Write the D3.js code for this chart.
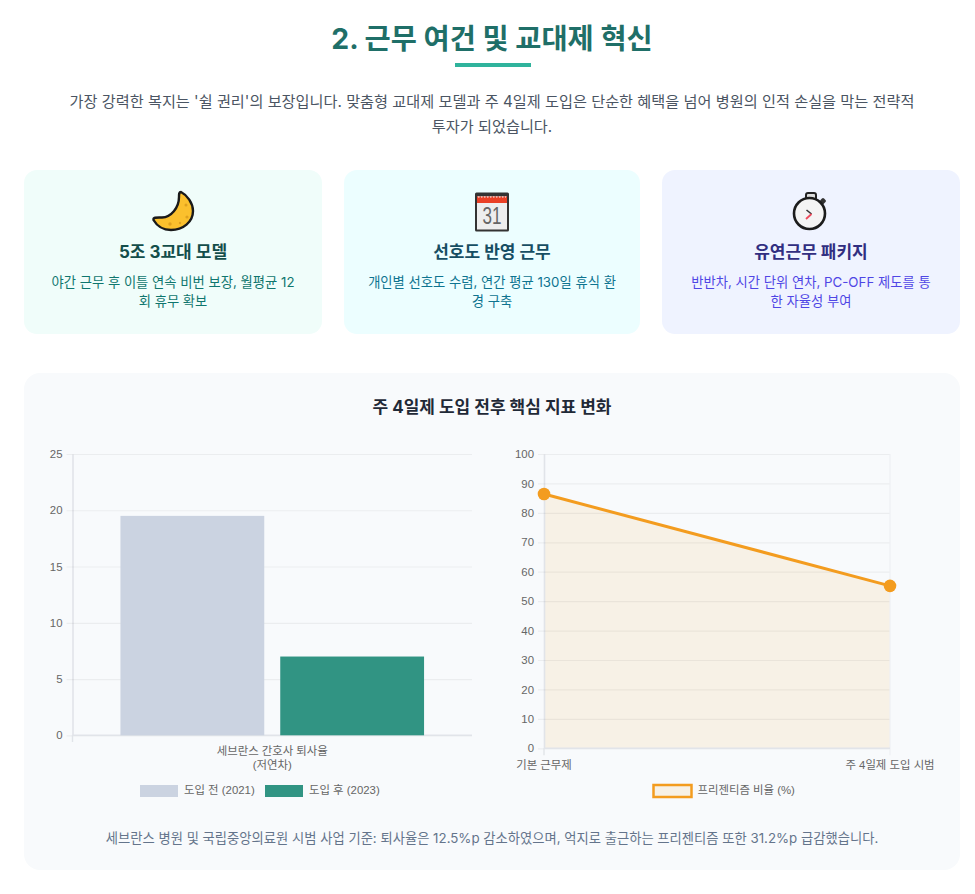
<!DOCTYPE html>
<html lang="ko">
<head>
<meta charset="utf-8">
<script src="https://cdn.jsdelivr.net/npm/d3@7"></script>
<style>
  html, body { margin: 0; background: #fff; }
  svg { display: block; }
  text { font-family: Inter, "Noto Sans CJK KR", sans-serif; }
  .tick text, .chart-label { font-family: "Liberation Sans", "Noto Sans CJK KR", sans-serif; font-size: 11.4px; fill: #666; }
</style>
</head>
<body>
<div id="page"></div>
<script>
const introLines = [
  "가장 강력한 복지는 '쉴 권리'의 보장입니다. 맞춤형 교대제 모델과 주 4일제 도입은 단순한 혜택을 넘어 병원의 인적 손실을 막는 전략적",
  "투자가 되었습니다."
];
const cardTitles = ["5조 3교대 모델", "선호도 반영 근무", "유연근무 패키지"];
const cardBodies = [
  ["야간 근무 후 이틀 연속 비번 보장, 월평균 12", "회 휴무 확보"],
  ["개인별 선호도 수렴, 연간 평균 130일 휴식 환", "경 구축"],
  ["반반차, 시간 단위 연차, PC-OFF 제도를 통", "한 자율성 부여"]
];
const turnoverCategory = ["세브란스 간호사 퇴사율", "(저연차)"];
const turnoverSeries = ["도입 전 (2021)", "도입 후 (2023)"];
const turnoverValues = [19.5, 7.0];
const presenteeismLabels = ["기본 근무제", "주 4일제 도입 시범"];
const presenteeismValues = [86.4, 55.2];
const presenteeismSeries = "프리젠티즘 비율 (%)";

const svg = d3.select("#page").append("svg").attr("width", 975).attr("height", 894);

// heading
svg.append("text").attr("x", 492).attr("y", 49).attr("text-anchor", "middle")
  .attr("font-size", 28.4).attr("font-weight", 700).attr("fill", "#1f6f68")
  .text("2. 근무 여건 및 교대제 혁신");
svg.append("rect").attr("x", 455).attr("y", 63).attr("width", 76).attr("height", 4).attr("fill", "#2fb39c");
svg.selectAll(".intro").data(introLines).join("text").attr("class", "intro")
  .attr("x", 492).attr("y", (d, i) => 107 + i * 25).attr("text-anchor", "middle")
  .attr("font-size", 15.2).attr("fill", "#4b5563").text(d => d);

// cards
const cardX = [24, 344, 662];
const cardW = [298, 296, 298];
const cardFill = ["#f0fdfa", "#ecfeff", "#eff3ff"];
const cardHead = ["#134e4a", "#164e63", "#312e81"];
const cardText = ["#0f766e", "#0e7490", "#4f46e5"];
const icons = [drawMoon, drawCalendar, drawStopwatch];
cardTitles.forEach((title, i) => {
  const cx = cardX[i] + cardW[i] / 2;
  svg.append("rect").attr("x", cardX[i]).attr("y", 170).attr("width", cardW[i]).attr("height", 164)
    .attr("rx", 13).attr("fill", cardFill[i]);
  icons[i](svg.append("g").attr("transform", `translate(${cx},211)`));
  svg.append("text").attr("x", cx).attr("y", 258).attr("text-anchor", "middle")
    .attr("font-size", 17).attr("font-weight", 700).attr("fill", cardHead[i]).text(title);
  cardBodies[i].forEach((line, j) => {
    svg.append("text").attr("x", cx).attr("y", 287 + j * 19).attr("text-anchor", "middle")
      .attr("font-size", 13.3).attr("fill", cardText[i]).text(line);
  });
});

function drawMoon(g) {
  g.append("path")
    .attr("d", "M8,-19 C14,-16 20,-8 20,0 C20,11 10,19 -2,19 C-10,19 -16,15 -19.5,9 C-20,6 -16,6.5 -11,6.5 C-2,6 6,-3 6,-14 C6,-17 6,-19 8,-19 Z")
    .attr("fill", "#fbc02d").attr("stroke", "#1a1a1a").attr("stroke-width", 2.4).attr("stroke-linejoin", "round");
  g.selectAll("circle").data([[13, -6, 1.5], [14, 6, 1.6], [-3, 13, 1.7], [7, 12, 1.2]]).join("circle")
    .attr("cx", d => d[0]).attr("cy", d => d[1]).attr("r", d => d[2]).attr("fill", "#e0a11f");
}

function drawCalendar(g) {
  g.append("rect").attr("x", -17).attr("y", -18.5).attr("width", 34).attr("height", 39).attr("rx", 1.5).attr("fill", "#333");
  g.append("rect").attr("x", -15).attr("y", -14.5).attr("width", 30).attr("height", 33).attr("fill", "#eeeeee");
  g.append("rect").attr("x", -15).attr("y", -14.5).attr("width", 30).attr("height", 6.5).attr("fill", "#ea4026");
  g.append("line").attr("x1", -14).attr("x2", 14).attr("y1", -14).attr("y2", -14)
    .attr("stroke", "#fff").attr("stroke-width", 1.2).attr("stroke-dasharray", "1.5 1.5");
  g.append("text").attr("x", 0).attr("y", 12.5).attr("text-anchor", "middle").attr("font-size", 23)
    .attr("fill", "#666").attr("textLength", 19).attr("lengthAdjust", "spacingAndGlyphs")
    .style("font-family", "'Liberation Sans'").text("31");
}

function drawStopwatch(g) {
  g.append("rect").attr("x", -5).attr("y", -18).attr("width", 10).attr("height", 7).attr("rx", 2)
    .attr("fill", "#ddd").attr("stroke", "#222").attr("stroke-width", 2);
  g.append("rect").attr("x", 9.5).attr("y", -12.5).attr("width", 5).attr("height", 5).attr("rx", 1.5)
    .attr("fill", "#333").attr("transform", "rotate(45 12 -10)");
  g.append("circle").attr("cx", -1.5).attr("cy", 2.5).attr("r", 15.5)
    .attr("fill", "#f4f4f4").attr("stroke", "#1c1c1c").attr("stroke-width", 2.6);
  g.append("path").attr("d", "M-4.5,-1 L0.5,3").attr("stroke", "#333").attr("stroke-width", 1.6).attr("fill", "none");
  g.append("path").attr("d", "M0.5,3 L-5,8").attr("stroke", "#ef4b5c").attr("stroke-width", 1.8).attr("fill", "none");
}

// chart panel
svg.append("rect").attr("x", 24).attr("y", 373).attr("width", 936).attr("height", 497).attr("rx", 16).attr("fill", "#f8fafc");
svg.append("text").attr("x", 492).attr("y", 413).attr("text-anchor", "middle")
  .attr("font-size", 17).attr("font-weight", 700).attr("fill", "#1f2937").text("주 4일제 도입 전후 핵심 지표 변화");
svg.append("text").attr("x", 492).attr("y", 843).attr("text-anchor", "middle")
  .attr("font-size", 13.3).attr("fill", "#64748b")
  .text("세브란스 병원 및 국립중앙의료원 시범 사업 기준: 퇴사율은 12.5%p 감소하였으며, 억지로 출근하는 프리젠티즘 또한 31.2%p 급감했습니다.");

const gridColor = "#eef0f4";
const axisColor = "#e1e4e9";

function styleYAxis(g, left, right) {
  g.select(".domain").attr("stroke", axisColor).attr("stroke-width", 1.6);
  g.selectAll(".tick line").attr("stroke", "rgba(0,0,0,0.05)").attr("stroke-width", 1.2).attr("x1", -6).attr("x2", right - left);
  g.selectAll(".tick text").attr("x", -10);
}

function legendItem(x, label, fill, stroke, strokeWidth) {
  svg.append("rect").attr("x", x).attr("y", 785).attr("width", 38).attr("height", 12)
    .attr("fill", fill).attr("stroke", stroke).attr("stroke-width", strokeWidth);
  svg.append("text").attr("class", "chart-label").attr("x", x + 44).attr("y", 794).text(label);
}

// left chart: turnover bars
const lx = d3.scaleBand().domain(["turnover"]).range([72.5, 472]).paddingOuter(0.125);
const lxInner = d3.scaleBand().domain(turnoverSeries).range([0, lx.bandwidth()]).paddingInner(0.1).paddingOuter(0.05);
const ly = d3.scaleLinear().domain([0, 25]).range([735.3, 454]);
const barColors = ["#cbd3e1", "#319483"];

const leftAxis = svg.append("g").attr("transform", "translate(72.5,0)")
  .call(d3.axisLeft(ly).tickValues(d3.range(0, 26, 5)).tickSize(0).tickPadding(10));
styleYAxis(leftAxis, 72.5, 472);
svg.append("line").attr("x1", 72.5).attr("x2", 72.5).attr("y1", 735).attr("y2", 742).attr("stroke", axisColor).attr("stroke-width", 1.4);
svg.append("line").attr("x1", 72.5).attr("x2", 472).attr("y1", ly(0)).attr("y2", ly(0)).attr("stroke", axisColor).attr("stroke-width", 1.6);

svg.selectAll(".bar").data(turnoverValues).join("rect").attr("class", "bar")
  .attr("x", (d, i) => lx("turnover") + lxInner(turnoverSeries[i]))
  .attr("y", d => ly(d))
  .attr("width", lxInner.bandwidth())
  .attr("height", d => ly(0) - ly(d))
  .attr("fill", (d, i) => barColors[i]);

svg.selectAll(".cat").data(turnoverCategory).join("text").attr("class", "cat chart-label")
  .attr("x", lx("turnover") + lx.bandwidth() / 2).attr("y", (d, i) => 755 + i * 14)
  .attr("text-anchor", "middle").text(d => d);
legendItem(140, turnoverSeries[0], barColors[0], "none", 0);
legendItem(265, turnoverSeries[1], barColors[1], "none", 0);

// right chart: presenteeism line
const rx = d3.scalePoint().domain(presenteeismLabels).range([544, 890]);
const ry = d3.scaleLinear().domain([0, 100]).range([748.3, 454]);
const lineColor = "#f39c1f";
const areaFill = "#f7f1e6";
const points = presenteeismValues.map((v, i) => ({ label: presenteeismLabels[i], value: v }));

svg.append("path").datum(points)
  .attr("d", d3.area().x(d => rx(d.label)).y0(ry(0)).y1(d => ry(d.value)))
  .attr("fill", areaFill);

const rightAxis = svg.append("g").attr("transform", "translate(544,0)")
  .call(d3.axisLeft(ry).tickValues(d3.range(0, 101, 10)).tickSize(0).tickPadding(10));
styleYAxis(rightAxis, 544, 890);
svg.append("line").attr("x1", 890).attr("x2", 890).attr("y1", ry(100)).attr("y2", ry(0) + 7).attr("stroke", gridColor).attr("stroke-width", 1.2);
svg.append("line").attr("x1", 544).attr("x2", 544).attr("y1", ry(0)).attr("y2", ry(0) + 7).attr("stroke", axisColor).attr("stroke-width", 1.4);
svg.append("line").attr("x1", 544).attr("x2", 890).attr("y1", ry(0)).attr("y2", ry(0)).attr("stroke", axisColor).attr("stroke-width", 1.4);

svg.append("path").datum(points)
  .attr("d", d3.line().x(d => rx(d.label)).y(d => ry(d.value)))
  .attr("fill", "none").attr("stroke", lineColor).attr("stroke-width", 3);
svg.selectAll(".pt").data(points).join("circle").attr("class", "pt")
  .attr("cx", d => rx(d.label)).attr("cy", d => ry(d.value)).attr("r", 6.3).attr("fill", lineColor);

svg.selectAll(".xl").data(presenteeismLabels).join("text").attr("class", "xl chart-label")
  .attr("x", d => rx(d)).attr("y", 769).attr("text-anchor", "middle").text(d => d);
legendItem(653.5, presenteeismSeries, areaFill, lineColor, 2.5);
</script>
</body>
</html>
